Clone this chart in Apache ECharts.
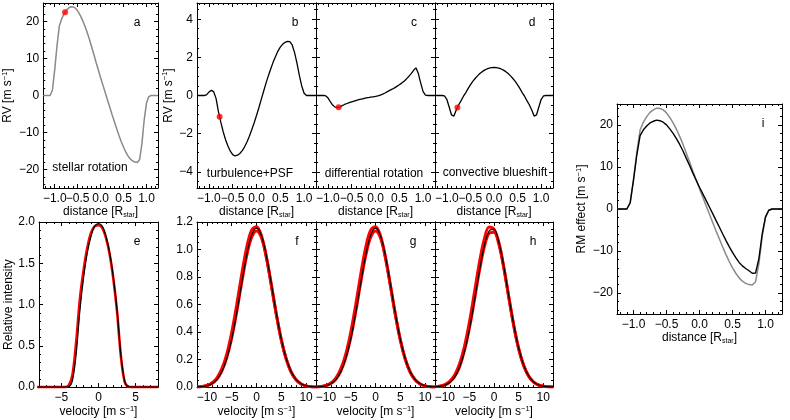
<!DOCTYPE html>
<html>
<head>
<meta charset="utf-8">
<script src="https://cdn.jsdelivr.net/npm/echarts@6/dist/echarts.min.js"></script>
<style>
html, body { margin: 0; padding: 0; background: #fff; }
#chart { width: 790px; height: 420px; }
</style>
</head>
<body>
<div id="chart"></div>
<script>
// distance along the transit chord [R_star], shared by panels a-d and i
var distance = [-1.25, -1.2, -1.15, -1.1, -1.05, -1, -0.95, -0.9, -0.85, -0.8, -0.75, -0.7, -0.65, -0.6, -0.55, -0.5,
  -0.45, -0.4, -0.35, -0.3, -0.25, -0.2, -0.15, -0.1, -0.05, 0, 0.05, 0.1, 0.15, 0.2, 0.25, 0.3, 0.35, 0.4, 0.45, 0.5,
  0.55, 0.6, 0.65, 0.7, 0.75, 0.8, 0.85, 0.9, 0.95, 1, 1.05, 1.1, 1.15, 1.2, 1.25];

// a: stellar rotation (grey, also the grey curve of i)
var rvRotation = [0, 0, 0, 0, 1.5, 7, 13.5, 18.8, 20.7, 22.0, 23.0, 23.6, 24.0, 23.95, 23.6, 22.9,
  21.8, 20.5, 19.0, 17.3, 15.4, 13.3, 11.2, 9.0, 6.9, 4.8, 2.8, 0.8, -1.2, -3.2, -5.2, -7.1, -9.0, -10.8, -12.5, -14.0,
  -15.3, -16.4, -17.2, -17.7, -18.0, -18.1, -17.3, -13.0, -6.5, -2.0, -0.3, 0, 0, 0, 0];
// b: turbulence + PSF
var rvTurbulence = [0, 0, 0, 0, 0.03, 0.18, 0.27, 0.2, -0.15, -0.85, -1.4, -1.9, -2.32, -2.65, -2.92, -3.1,
  -3.17, -3.13, -3.04, -2.89, -2.69, -2.44, -2.14, -1.8, -1.44, -1.05, -0.64, -0.2, 0.22, 0.65, 1.04, 1.4, 1.75, 2.05, 2.33, 2.54,
  2.69, 2.79, 2.84, 2.82, 2.65, 2.25, 1.7, 1.05, 0.5, 0.12, 0, 0, 0, 0, 0];
// c: differential rotation
var rvDiffRot = [0, 0, 0, 0, -0.01, -0.12, -0.32, -0.5, -0.61, -0.63, -0.6, -0.53, -0.47, -0.42, -0.37, -0.33,
  -0.29, -0.25, -0.22, -0.19, -0.16, -0.13, -0.11, -0.09, -0.07, -0.05, -0.02, 0.02, 0.07, 0.13, 0.2, 0.27, 0.33, 0.4, 0.48, 0.56,
  0.65, 0.75, 0.87, 1.0, 1.15, 1.32, 1.45, 1.15, 0.65, 0.2, 0.02, 0, 0, 0, 0];
// d: convective blueshift
var rvConvective = [0, 0, 0, 0, -0.02, -0.2, -0.6, -1.02, -1.08, -0.76, -0.5, -0.28, -0.05, 0.14, 0.36, 0.56,
  0.74, 0.89, 1.03, 1.15, 1.25, 1.33, 1.39, 1.43, 1.46, 1.47, 1.46, 1.43, 1.39, 1.33, 1.25, 1.15, 1.03, 0.89, 0.74, 0.56,
  0.36, 0.14, -0.05, -0.28, -0.5, -0.76, -1.08, -1.02, -0.6, -0.2, -0.02, 0, 0, 0, 0];
// i: total RM effect (black)
var rmTotal = [0, 0, 0, 0, 1.5, 6.86, 12.85, 17.48, 18.86, 19.76, 20.5, 20.89, 21.16, 21.02, 20.67, 20.03,
  19.08, 18.01, 16.77, 15.37, 13.8, 12.06, 10.34, 8.54, 6.85, 5.17, 3.6, 2.05, 0.48, -1.09, -2.71, -4.28, -5.89, -7.46, -8.95, -10.34,
  -11.6, -12.72, -13.54, -14.16, -14.7, -15.29, -15.23, -11.82, -5.95, -1.88, -0.3, 0, 0, 0, 0];

// red dots (planet position of the red profiles)
var dotDistance = -0.775;
var dotRV = [22.5, -1.12, -0.62, -0.63];

// e: rotation profile
var velE = [-12, -11.5, -11, -10.5, -10, -9.5, -9, -8.5, -8, -7.5, -7, -6.5, -6, -5.5, -5, -4.5, -4, -3.5, -3, -2.5,
  -2, -1.5, -1, -0.5, 0, 0.5, 1, 1.5, 2, 2.5, 3, 3.5, 4, 4.5, 5, 5.5, 6, 6.5, 7, 7.5, 8];
var profE = [0, 0, 0, 0, 0, 0, 0, 0, 0, 0, 0, 0, 0, 0, 0, 0, 0.005, 0.08, 0.4, 0.93,
  1.33, 1.63, 1.83, 1.95, 1.98, 1.95, 1.83, 1.63, 1.33, 0.93, 0.4, 0.08, 0.005, 0, 0, 0, 0, 0, 0, 0, 0];
var profERed = [0, 0, 0, 0, 0, 0, 0, 0, 0, 0, 0, 0, 0, 0, 0, 0, 0.02, 0.15, 0.55, 1.07,
  1.42, 1.69, 1.87, 1.95, 1.96, 1.93, 1.81, 1.61, 1.31, 0.91, 0.38, 0.07, 0.004, 0, 0, 0, 0, 0, 0, 0, 0];

// f, g, h: broadened profiles
var velFGH = [-12, -11, -10, -9, -8, -7, -6, -5, -4, -3, -2, -1, 0, 1, 2, 3, 4, 5, 6, 7, 8, 9, 10, 11, 12];
var profFG = [0.001, 0.0035, 0.0097, 0.024, 0.054, 0.111, 0.207, 0.349, 0.537, 0.751, 0.954, 1.101, 1.155,
  1.101, 0.954, 0.751, 0.537, 0.349, 0.207, 0.111, 0.054, 0.024, 0.0097, 0.0035, 0.001];
var profFGRedHi = [0.0016, 0.0046, 0.012, 0.03, 0.066, 0.132, 0.24, 0.397, 0.597, 0.815, 1.011, 1.139, 1.166,
  1.1, 0.945, 0.74, 0.527, 0.342, 0.203, 0.108, 0.052, 0.023, 0.009, 0.003, 0.001];
var profFGRedLo = [0.0013, 0.004, 0.01, 0.026, 0.057, 0.116, 0.214, 0.358, 0.546, 0.756, 0.951, 1.087, 1.135,
  1.085, 0.94, 0.74, 0.53, 0.345, 0.204, 0.109, 0.053, 0.023, 0.009, 0.003, 0.001];
var profH = [0.002, 0.005, 0.014, 0.033, 0.073, 0.144, 0.258, 0.419, 0.621, 0.836, 1.022, 1.135, 1.146,
  1.052, 0.877, 0.664, 0.457, 0.286, 0.163, 0.084, 0.039, 0.017, 0.007, 0.002, 0.001];
var profHRedHi = [0.0025, 0.007, 0.018, 0.042, 0.088, 0.17, 0.297, 0.473, 0.684, 0.899, 1.072, 1.163, 1.147,
  1.05, 0.87, 0.655, 0.45, 0.28, 0.16, 0.082, 0.038, 0.016, 0.006, 0.002, 0.001];
var profHRedLo = [0.002, 0.006, 0.015, 0.036, 0.077, 0.149, 0.266, 0.429, 0.629, 0.838, 1.015, 1.117, 1.125,
  1.035, 0.865, 0.655, 0.452, 0.283, 0.161, 0.083, 0.039, 0.017, 0.007, 0.002, 0.001];

var fontFam = 'Liberation Sans, Arial, sans-serif';
var fs = 12;
var nameRich = {
  n: { fontSize: fs, fontFamily: fontFam, color: '#000', lineHeight: 14 },
  s: { fontSize: 7, fontFamily: fontFam, color: '#000', lineHeight: 8, padding: [6, 0, 0, 0], verticalAlign: 'bottom' },
  p: { fontSize: 7.5, fontFamily: fontFam, color: '#000', lineHeight: 8, padding: [0, 0, 6, 0], verticalAlign: 'top' }
};
var distName = '{n|distance [R}{s|star}{n|]}';
var velName = '{n|velocity [m s}{p|\u22121}{n|]}';
var rvName = '{n|RV [m s}{p|\u22121}{n|]}';
var rmName = '{n|RM effect [m s}{p|\u22121}{n|]}';
var intName = '{n|Relative intensity}';

function fmt (v, dec) {
  var s = Math.abs(v).toFixed(dec);
  return (v < -1e-9 ? '\u2212' : '') + s;
}

var grids = [], xAxes = [], yAxes = [], series = [];

function makeAxis (gi, pos, range, step, minor, lab) {
  var a = {
    type: 'value', gridIndex: gi, position: pos,
    min: range[0], max: range[1], minInterval: step, maxInterval: step,
    axisLine: { show: true, onZero: false, lineStyle: { color: '#000', width: 1 } },
    axisTick: { show: true, inside: true, length: 4, lineStyle: { color: '#000', width: 1 } },
    minorTick: { show: true, splitNumber: minor, length: 2, lineStyle: { color: '#000', width: 1 } },
    splitLine: { show: false },
    minorSplitLine: { show: false },
    axisLabel: { show: false }
  };
  if (lab) {
    a.axisLabel = {
      show: true, color: '#000', fontFamily: fontFam, fontSize: fs, margin: lab.margin,
      showMinLabel: lab.ends, showMaxLabel: lab.ends,
      formatter: function (v) { return fmt(v, lab.dec) }
    };
    if (lab.name) {
      a.name = lab.name;
      a.nameLocation = 'middle';
      a.nameGap = lab.gap;
      a.nameTextStyle = { rich: nameRich };
    }
  }
  return a;
}

// one boxed panel: labelled bottom/left axes plus mirrored top/right ticks
function panel (box, xr, yr, o) {
  var gi = grids.length;
  grids.push({ left: box[0], top: box[1], width: box[2], height: box[3] });
  var xi = xAxes.length, yi = yAxes.length;
  xAxes.push(makeAxis(gi, 'bottom', xr, o.xStep, o.xMinor, o.xLab));
  xAxes.push(makeAxis(gi, 'top', xr, o.xStep, o.xMinor, null));
  yAxes.push(makeAxis(gi, 'left', yr, o.yStep, o.yMinor, o.yLab));
  yAxes.push(makeAxis(gi, 'right', yr, o.yStep, o.yMinor, null));
  return { x: xi, y: yi };
}

function line (p, xs, ys, color, width, extra) {
  var s = {
    type: 'line', xAxisIndex: p.x, yAxisIndex: p.y, symbol: 'none', silent: true,
    data: xs.map(function (x, i) { return [x, ys[i]] }),
    lineStyle: { color: color, width: width }
  };
  for (var k in extra || {}) s[k] = extra[k];
  return s;
}

var topY = 3, topH = 185, botY = 222, botH = 168;
var colX = [39, 197, 316, 435], colW = [119, 119, 119, 118];
var distRange = [-1.25, 1.25];
var distLab = { dec: 1, ends: false, margin: 5, name: distName, gap: 15 };

// top row
var topPanels = [];
var rvRanges = [[-25, 25], [-4.85, 4.85], [-4.85, 4.85], [-4.85, 4.85]];
var rvSteps = [10, 2, 2, 2];
var rvMinor = [5, 4, 4, 4];
var rvLabs = [
  { dec: 0, ends: false, margin: 4, name: rvName, gap: 23 },
  { dec: 0, ends: false, margin: 4, name: rvName, gap: 19 },
  null, null
];
for (var c = 0; c < 4; c++) {
  topPanels.push(panel([colX[c], topY, colW[c], topH], distRange, rvRanges[c],
    { xStep: 0.5, xMinor: 5, xLab: distLab, yStep: rvSteps[c], yMinor: rvMinor[c], yLab: rvLabs[c] }));
}

// bottom row
var velRanges = [[-8, 8], [-12, 12], [-12, 12], [-12, 12]];
var intRanges = [[0, 2], [0, 1.2], [0, 1.2], [0, 1.2]];
var intSteps = [0.5, 0.2, 0.2, 0.2];
var intMinor = [5, 4, 4, 4];
var intLabs = [
  { dec: 1, ends: true, margin: 4, name: intName, gap: 22 },
  { dec: 1, ends: true, margin: 4 },
  null, null
];
var velLab = { dec: 0, ends: false, margin: 5, name: velName, gap: 15 };
var botPanels = [];
for (var c2 = 0; c2 < 4; c2++) {
  botPanels.push(panel([colX[c2], botY, colW[c2], botH], velRanges[c2], intRanges[c2],
    { xStep: 5, xMinor: 5, xLab: velLab, yStep: intSteps[c2], yMinor: intMinor[c2], yLab: intLabs[c2] }));
}

// right panel
var pi = panel([617, 104, 165, 210], distRange, [-25, 25],
  { xStep: 0.5, xMinor: 5, xLab: distLab, yStep: 10, yMinor: 5,
    yLab: { dec: 0, ends: false, margin: 4, name: rmName, gap: 26 } });

var grey = '#8a8a8a', red = '#ff0000';

series.push(line(topPanels[0], distance, rvRotation, grey, 1.5));
series.push(line(topPanels[1], distance, rvTurbulence, '#000', 1.3));
series.push(line(topPanels[2], distance, rvDiffRot, '#000', 1.3));
series.push(line(topPanels[3], distance, rvConvective, '#000', 1.3));
for (var d = 0; d < 4; d++) {
  series.push({
    type: 'scatter', xAxisIndex: topPanels[d].x, yAxisIndex: topPanels[d].y, silent: true,
    data: [[dotDistance, dotRV[d]]], symbolSize: 6, itemStyle: { color: red }, z: 5
  });
}

// e
series.push(line(botPanels[0], velE, profERed, 'rgba(255,0,0,0.35)', 0.8, { clip: false }));
series.push(line(botPanels[0], velE, profERed, red, 2.6, { smooth: 0.3 }));
series.push(line(botPanels[0], velE, profE, '#000', 1.2, { smooth: 0.3 }));
// f, g, h
var bands = [[profFGRedLo, profFGRedHi, profFG], [profFGRedLo, profFGRedHi, profFG], [profHRedLo, profHRedHi, profH]];
for (var b = 0; b < 3; b++) {
  var pp = botPanels[b + 1];
  series.push(line(pp, velFGH, bands[b][0], red, 3, { smooth: 0.35 }));
  series.push(line(pp, velFGH, bands[b][1], red, 3, { smooth: 0.35 }));
  series.push(line(pp, velFGH, bands[b][2], '#000', 1.2, { smooth: 0.35 }));
}

// i
series.push(line(pi, distance, rvRotation, grey, 1.5));
series.push(line(pi, distance, rmTotal, '#000', 1.4));

// panel tags and captions
var tags = [['a', 137, 23], ['b', 295, 23], ['c', 414, 23], ['d', 532, 23],
  ['e', 137, 242], ['f', 297, 242], ['g', 413, 242], ['h', 533, 242], ['i', 763, 124]];
var notes = [['stellar rotation', 90, 168], ['turbulence+PSF', 250, 174],
  ['differential rotation', 374, 174], ['convective blueshift', 495, 173]];
var graphic = tags.concat(notes).map(function (t) {
  return {
    type: 'text', x: t[1], y: t[2], silent: true, z: 10,
    style: {
      text: t[0], fill: '#000', font: fs + 'px ' + fontFam,
      align: 'center', verticalAlign: 'middle', textAlign: 'center', textVerticalAlign: 'middle'
    }
  };
});

var chart = echarts.init(document.getElementById('chart'));
chart.setOption({
  animation: false,
  backgroundColor: '#fff',
  grid: grids,
  xAxis: xAxes,
  yAxis: yAxes,
  series: series,
  graphic: graphic
});
</script>
</body>
</html>
